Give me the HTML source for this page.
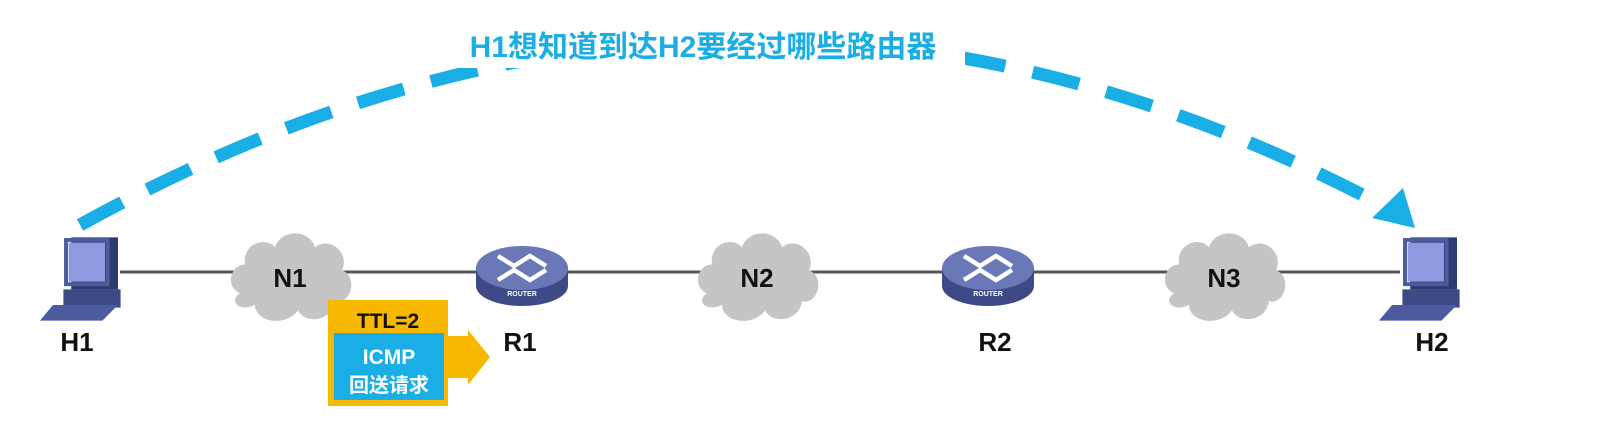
<!DOCTYPE html>
<html><head><meta charset="utf-8"><style>
body{margin:0;width:1601px;height:432px;background:#fff;overflow:hidden;font-family:"Liberation Sans","Noto Sans CJK SC",sans-serif}
</style></head><body>
<svg width="1601" height="432" viewBox="0 0 1601 432" xmlns="http://www.w3.org/2000/svg" style="position:absolute;left:0;top:0">
<defs>
<g id="cloud"><path d="M-50,15 C-65,10 -60,-10 -45,-10 C-48,-28 -25,-35 -15,-25 C-8,-42 20,-40 25,-25 C40,-35 60,-20 52,-5 C68,0 62,25 45,22 C42,40 15,42 8,30 C-5,45 -35,40 -35,25 C-50,32 -62,22 -50,15Z" fill="#c5c5c5"/></g>
<g id="router">
<ellipse cx="0" cy="14" rx="46" ry="20" fill="#3d4a86"/>
<rect x="-46" y="-4" width="92" height="18" fill="#3d4a86"/>
<ellipse cx="0" cy="-4" rx="46" ry="22" fill="#6a78b8"/>
<g stroke="#fff" stroke-width="4.5" fill="none"><path d="M-24,-16 L-8,-6 L8,-16 L24,-6"/><path d="M-24,8 L-8,-2 L8,8 L24,-2"/></g>
<text x="0" y="24" font-size="7" font-weight="bold" fill="#fff" text-anchor="middle">ROUTER</text>
</g>
<g id="pc">
<rect x="-22" y="18" width="44" height="14" fill="#3d4a86"/>
<polygon points="-30,30 20,30 8,42 -40,42" fill="#4c5a9e"/>
<rect x="-16" y="-22" width="36" height="40" fill="#2f3a70"/>
<rect x="-18" y="-18" width="28" height="30" fill="#8f9ae0"/>
<rect x="-20" y="-20" width="32" height="34" fill="none" stroke="#4c5a9e" stroke-width="3"/>
</g>
</defs>
<path d="M80,225 Q740,-140 1395,212" fill="none" stroke="#1aaee6" stroke-width="13" stroke-dasharray="48,28"/>
<polygon points="1415,228 1372,218 1403,188" fill="#1aaee6"/>
<rect x="440" y="18" width="525" height="50" fill="#fff"/>
<text x="703" y="57" font-size="30" font-weight="bold" fill="#1aaee6" text-anchor="middle">H1想知道到达H2要经过哪些路由器</text>
<line x1="120" y1="272" x2="1400" y2="272" stroke="#555" stroke-width="3"/>
<use href="#cloud" transform="translate(290 276) scale(1 1.15)"/>
<use href="#cloud" transform="translate(757 276) scale(1 1.15)"/>
<use href="#cloud" transform="translate(1224 276) scale(1 1.15)"/>
<text x="290" y="287" font-size="26" font-weight="bold" text-anchor="middle" fill="#111">N1</text>
<text x="757" y="287" font-size="26" font-weight="bold" text-anchor="middle" fill="#111">N2</text>
<text x="1224" y="287" font-size="26" font-weight="bold" text-anchor="middle" fill="#111">N3</text>
<use href="#router" x="522" y="272"/>
<use href="#router" x="988" y="272"/>
<g transform="translate(92 266) scale(1.3)"><use href="#pc"/></g>
<g transform="translate(1431 266) scale(1.3)"><use href="#pc"/></g>
<g font-size="26" font-weight="bold" text-anchor="middle" fill="#111">
<text x="77" y="351">H1</text><text x="520" y="351">R1</text><text x="995" y="351">R2</text><text x="1432" y="351">H2</text></g>
<polygon points="446,336 468,336 468,330 490,357 468,385 468,378 446,378" fill="#f9b800"/>
<rect x="328" y="300" width="120" height="106" fill="#f9b800"/>
<rect x="334" y="333" width="110" height="67" fill="#1aaee6"/>
<text x="388" y="328" font-size="21" font-weight="bold" text-anchor="middle" fill="#111">TTL=2</text>
<text x="389" y="364" font-size="21" font-weight="bold" text-anchor="middle" fill="#fff">ICMP</text>
<text x="389" y="392" font-size="20" font-weight="bold" text-anchor="middle" fill="#fff">回送请求</text>
</svg>
</body></html>
